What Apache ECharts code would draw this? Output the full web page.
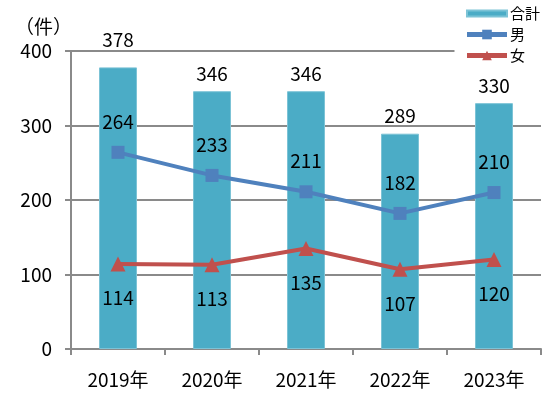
<!DOCTYPE html>
<html>
<head>
<meta charset="utf-8">
<style>
html,body{margin:0;padding:0;background:#fff;}
#chart{width:552px;height:397px;}
</style>
<script src="https://cdn.jsdelivr.net/npm/echarts@6/dist/echarts.min.js"></script>
</head>
<body>
<div id="chart"></div>
<script>
// 年別件数
let years=["2019年","2020年","2021年","2022年","2023年"]
let total=[378,346,346,289,330]
let male=[264,233,211,182,210]
let female=[114,113,135,107,120]

let font="'Noto Sans CJK JP', sans-serif"
let gray="#8a8a8a"

let myChart=echarts.init(document.getElementById("chart"))

// 378 のラベルだけ少し上
let totalData=total.map((v,i)=>i==0 ? {value:v,label:{offset:[0,-10]}} : v)

myChart.setOption({
  animation:false,
  textStyle:{fontFamily:font},
  title:{
    text:"（件）",
    left:10,
    top:12,
    textStyle:{fontSize:19,fontWeight:"normal",color:"#000",fontFamily:font}
  },
  grid:{
    left:71,
    right:11,
    top:51,
    bottom:48
  },
  legend:{
    orient:"vertical",
    right:6,
    top:2,
    itemWidth:40,
    itemHeight:12,
    itemGap:6,
    padding:[4,6,4,10],
    backgroundColor:"#fff",
    textStyle:{fontSize:15,color:"#000",fontFamily:font,padding:[0,0,0,-2]},
    data:[
      {name:"合計",icon:"path://M0,0h40v6h-40z"},
      {name:"男",lineStyle:{width:5}},
      {name:"女",lineStyle:{width:5}}
    ]
  },
  xAxis:{
    type:"category",
    data:years,
    axisLine:{lineStyle:{color:gray,width:2}},
    axisTick:{show:true,length:6,lineStyle:{color:gray,width:2}},
    axisLabel:{color:"#000",fontSize:19,margin:21,fontFamily:font}
  },
  yAxis:{
    type:"value",
    min:0,
    max:400,
    interval:100,
    axisLine:{show:true,lineStyle:{color:gray,width:2}},
    axisTick:{show:true,length:6,lineStyle:{color:gray,width:2}},
    splitLine:{lineStyle:{color:gray,width:2}},
    axisLabel:{color:"#000",fontSize:19,margin:19,fontFamily:font}
  },
  series:[
    {
      name:"合計",
      type:"bar",
      data:totalData,
      barWidth:38,
      itemStyle:{color:"#4BACC6",borderColor:"#7cc3d6",borderWidth:1},
      label:{show:true,position:"top",distance:8,color:"#000",fontSize:19,fontFamily:font}
    },
    {
      name:"男",
      type:"line",
      data:male,
      symbol:"rect",
      symbolSize:13,
      lineStyle:{color:"#4F81BD",width:4},
      itemStyle:{color:"#4F81BD"},
      label:{show:true,position:"top",distance:15,color:"#000",fontSize:19,fontFamily:font}
    },
    {
      name:"女",
      type:"line",
      data:female,
      symbol:"triangle",
      symbolSize:15,
      lineStyle:{color:"#C0504D",width:4},
      itemStyle:{color:"#C0504D"},
      label:{show:true,position:"bottom",distance:17,color:"#000",fontSize:19,fontFamily:font}
    }
  ]
})
</script>
</body>
</html>
